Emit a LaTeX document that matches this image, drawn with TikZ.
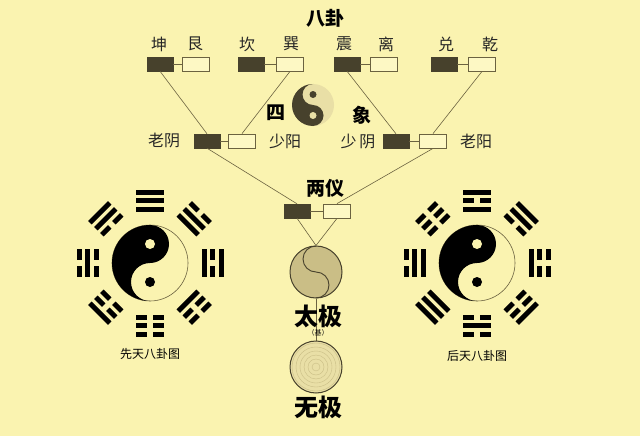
\documentclass[tikz,border=0pt]{standalone}
\usepackage{fontspec}
\newfontfamily\cjk{Noto Sans CJK SC}
\definecolor{bg}{HTML}{FAF3B0}
\definecolor{dk}{HTML}{47412C}
\definecolor{lt}{HTML}{FDF8C4}
\definecolor{ln}{HTML}{6B6240}
\definecolor{tj}{HTML}{CABE86}
\definecolor{ym}{HTML}{E9DFA6}
\tikzset{
  dkbox/.style={draw=dk,fill=dk,minimum width=26pt,minimum height=14pt,inner sep=0pt},
  ltbox/.style={draw=ln,fill=lt,line width=0.8pt,minimum width=27pt,minimum height=14pt,inner sep=0pt},
  conn/.style={draw=ln,line width=0.6pt},
  lbl/.style={font=\cjk\fontsize{16}{16}\selectfont,text=black!85},
  ttl/.style={font=\cjk\bfseries\fontsize{19}{19}\selectfont,text=black},
  big/.style={font=\cjk\bfseries\fontsize{24}{24}\selectfont,text=black},
  captxt/.style={font=\cjk\fontsize{12}{12}\selectfont,text=black}
}
\newcommand{\yao}[2]{\ifnum#1=1 \fill (-14,#2-2.5) rectangle (14,#2+2.5);\else \fill (-14,#2-2.5) rectangle (-3,#2+2.5); \fill (3,#2-2.5) rectangle (14,#2+2.5);\fi}
\newcommand{\trig}[6]{\begin{scope}[shift={(#1,#2)},yscale=-1,rotate=#3]\yao{#4}{54}\yao{#5}{62.5}\yao{#6}{71}\end{scope}}
\begin{document}
\begin{tikzpicture}[x=1pt,y=-1pt]
\fill[bg] (0,0) rectangle (640,436);
\useasboundingbox (0,0) rectangle (640,436);
\node[ttl] (bagua) at (325,18) {八卦};
\foreach \t/\x [count=\i] in {坤/159,艮/195,坎/247,巽/291,震/344,离/386,兑/446,乾/490}
  \node[lbl] (l\i) at (\x,44) {\t};
\node[dkbox] (d1) at (160,64) {}; \node[ltbox] (w1) at (196,64) {};
\node[dkbox] (d2) at (251,64) {}; \node[ltbox] (w2) at (290,64) {};
\node[dkbox] (d3) at (347,64) {}; \node[ltbox] (w3) at (384,64) {};
\node[dkbox] (d4) at (444,64) {}; \node[ltbox] (w4) at (482,64) {};
\foreach \i in {1,2,3,4} \draw[conn] (d\i) -- (w\i);
\node[dkbox] (e1) at (207,141) {}; \node[ltbox] (v1) at (242,141) {};
\node[dkbox] (e2) at (396,141) {}; \node[ltbox] (v2) at (433,141) {};
\draw[conn] (e1) -- (v1); \draw[conn] (e2) -- (v2);
\node[lbl] (laoyin) at (164,140) {老阴};
\node[lbl] (shaoyang) at (285,141) {少阳};
\node[lbl] (shaoyin) at (358,141) {少\,阴};
\node[lbl] (laoyang) at (476,141) {老阳};
\draw[conn] (d1.south) -- (e1.north);
\draw[conn] (w2.south) -- (v1.north);
\draw[conn] (d3.south) -- (e2.north);
\draw[conn] (w4.south) -- (v2.north);
\begin{scope}[shift={(313,105)},yscale=-1]
  \fill[ym] (0,0) circle (21);
  \fill[dk] (0,21) arc (90:270:21) arc (-90:90:10.5) arc (270:90:10.5) -- cycle;
  \fill[ym] (0,-10.5) circle (3.5);
  \fill[dk] (0,10.5) circle (3.5);
\end{scope}
\node[ttl] (si) at (276,113) {四};
\node[ttl] (xiang) at (362,115) {象};
\node[ttl] (liangyi) at (325,188) {两仪};
\node[dkbox] (f1) at (297,211) {}; \node[ltbox] (u1) at (337,211) {};
\draw[conn] (f1) -- (u1);
\draw[conn] (e1.south) -- (f1.north);
\draw[conn] (v2.south) -- (u1.north);
\coordinate (tjc) at (316,272);
\node[circle,draw=dk,line width=1pt,fill=tj,minimum size=52pt,inner sep=0pt] (taiji) at (tjc) {};
\begin{scope}[shift={(tjc)},yscale=-1]
  \draw[dk,line width=0.9pt] (0,26) arc (90:270:13) arc (90:-90:13);
\end{scope}
\draw[conn] (f1.south) -- (taiji.north);
\draw[conn] (u1.south) -- (taiji.north);
\draw[ln,line width=0.8pt] (taiji.south) -- (316,341);
\node[big] (tjt) at (318,316) {太极};
\node[font=\cjk\fontsize{7}{7}\selectfont] (ji) at (318,333) {（基）};
\node[circle,draw=dk,line width=1pt,fill=ym,minimum size=52pt,inner sep=0pt] (wuji) at (316,367) {};
\foreach \r in {4,8,...,24} \draw[tj,line width=0.4pt] (316,367) circle (\r);
\node[big] (wjt) at (318,407) {无极};
\begin{scope}[shift={(150,263)},yscale=-1]
  \draw[ln,line width=0.6pt,fill=bg] (0,0) circle (38);
  \fill[black] (0,38) arc (90:270:38) arc (-90:-270:19) arc (-90:90:19) -- cycle;
  \fill[bg] (0,19) circle (5);
  \fill[black] (0,-19) circle (5);
\end{scope}
\trig{150}{263}{0}{1}{1}{1}
\trig{150}{263}{45}{1}{1}{0}
\trig{150}{263}{90}{1}{0}{1}
\trig{150}{263}{135}{1}{0}{0}
\trig{150}{263}{180}{0}{0}{0}
\trig{150}{263}{225}{0}{0}{1}
\trig{150}{263}{270}{0}{1}{0}
\trig{150}{263}{315}{0}{1}{1}
\node[captxt] (xt) at (150,354) {先天八卦图};
\begin{scope}[shift={(477,263)},yscale=-1]
  \draw[ln,line width=0.6pt,fill=bg] (0,0) circle (38);
  \fill[black] (0,38) arc (90:270:38) arc (-90:-270:19) arc (-90:90:19) -- cycle;
  \fill[bg] (0,19) circle (5);
  \fill[black] (0,-19) circle (5);
\end{scope}
\trig{477}{263}{0}{1}{0}{1}
\trig{477}{263}{45}{0}{1}{1}
\trig{477}{263}{90}{1}{0}{0}
\trig{477}{263}{135}{0}{0}{1}
\trig{477}{263}{180}{0}{1}{0}
\trig{477}{263}{225}{1}{1}{1}
\trig{477}{263}{270}{1}{1}{0}
\trig{477}{263}{315}{0}{0}{0}
\node[captxt] (ht) at (477,356) {后天八卦图};
\end{tikzpicture}
\end{document}
